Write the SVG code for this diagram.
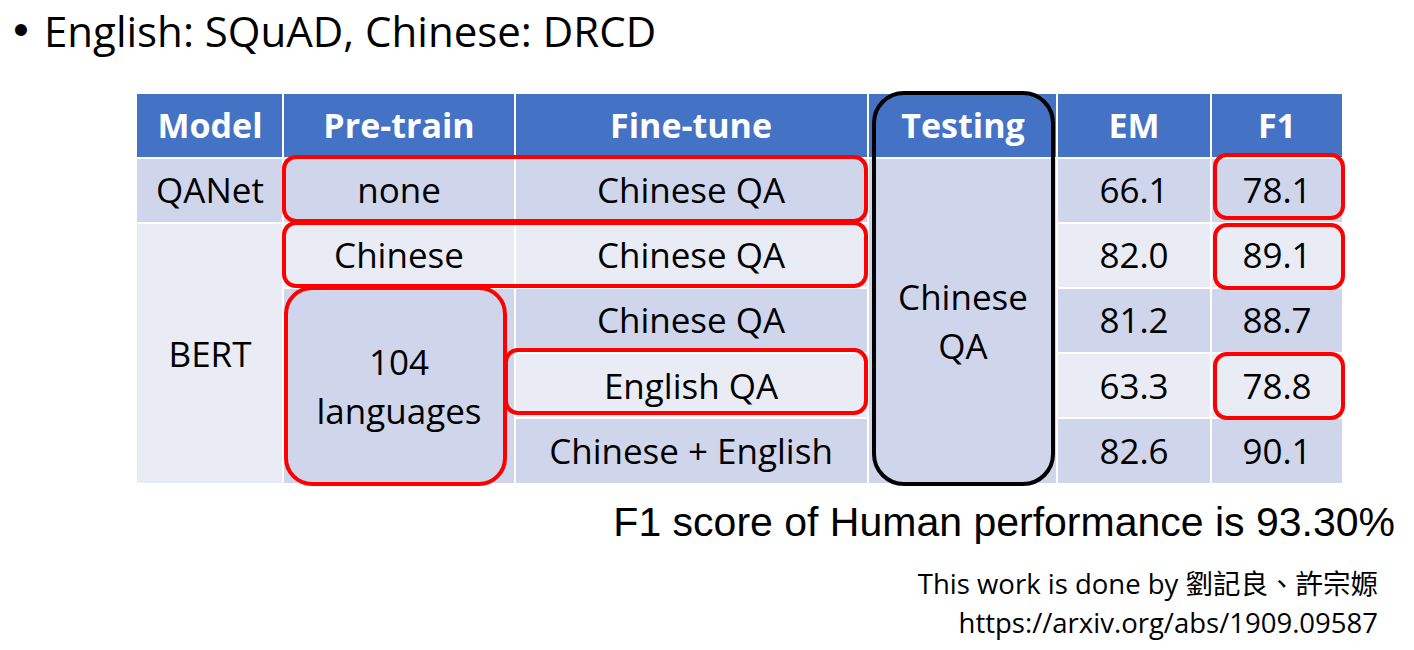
<svg xmlns="http://www.w3.org/2000/svg" width="1414" height="650" viewBox="0 0 1414 650">
<style>
.hd{fill:#4472C4}
.dk{fill:#CFD5EA}
.lt{fill:#E9EBF5}
.ht{font-family:"Open Sans","Noto Sans",sans-serif;font-weight:bold;font-size:34px;fill:#fff;text-anchor:middle}
.ct{font-family:"Open Sans","Noto Sans",sans-serif;font-size:35px;fill:#000;text-anchor:middle}
.rb{fill:none;stroke:#FF0000;stroke-width:4}
.bb{fill:none;stroke:#000;stroke-width:4}
</style>
<rect width="1414" height="650" fill="#fff"/>
<text x="21" y="45" text-anchor="middle" font-family="'Liberation Sans',Arial,sans-serif" font-size="44" fill="#000">•</text>
<text x="44" y="47" font-family="'Open Sans','Noto Sans',sans-serif" font-size="42" fill="#000">English: SQuAD, Chinese: DRCD</text>
<g id="table">
<rect class="hd" x="137" y="94" width="145" height="63"/>
<rect class="hd" x="284" y="94" width="230" height="63"/>
<rect class="hd" x="516" y="94" width="351" height="63"/>
<rect class="hd" x="869" y="94" width="187" height="63"/>
<rect class="hd" x="1058" y="94" width="152" height="63"/>
<rect class="hd" x="1212" y="94" width="130" height="63"/>
<rect class="dk" x="137" y="159" width="145" height="63"/>
<rect class="dk" x="284" y="159" width="230" height="63"/>
<rect class="dk" x="516" y="159" width="351" height="63"/>
<rect class="dk" x="1058" y="159" width="152" height="63"/>
<rect class="dk" x="1212" y="159" width="130" height="63"/>
<rect class="lt" x="137" y="224" width="145" height="259"/>
<rect class="lt" x="284" y="224" width="230" height="63"/>
<rect class="lt" x="516" y="224" width="351" height="63"/>
<rect class="lt" x="1058" y="224" width="152" height="63"/>
<rect class="lt" x="1212" y="224" width="130" height="63"/>
<rect class="dk" x="284" y="289" width="230" height="194"/>
<rect class="dk" x="516" y="289" width="351" height="63"/>
<rect class="dk" x="1058" y="289" width="152" height="63"/>
<rect class="dk" x="1212" y="289" width="130" height="63"/>
<rect class="lt" x="516" y="354" width="351" height="63"/>
<rect class="lt" x="1058" y="354" width="152" height="63"/>
<rect class="lt" x="1212" y="354" width="130" height="63"/>
<rect class="dk" x="516" y="419" width="351" height="64"/>
<rect class="dk" x="1058" y="419" width="152" height="64"/>
<rect class="dk" x="1212" y="419" width="130" height="64"/>
<rect class="dk" x="869" y="159" width="187" height="324"/>
</g>
<g id="header-text">
<text class="ht" x="210" y="138">Model</text>
<text class="ht" x="399" y="138">Pre-train</text>
<text class="ht" x="691" y="138">Fine-tune</text>
<text class="ht" x="963" y="138">Testing</text>
<text class="ht" x="1134" y="138">EM</text>
<text class="ht" x="1277" y="138">F1</text>
</g>
<g id="cell-text">
<text class="ct" x="210" y="203">QANet</text>
<text class="ct" x="399" y="203">none</text>
<text class="ct" x="691" y="203">Chinese QA</text>
<text class="ct" x="1134" y="203">66.1</text>
<text class="ct" x="1277" y="203">78.1</text>
<text class="ct" x="210" y="367">BERT</text>
<text class="ct" x="399" y="268">Chinese</text>
<text class="ct" x="691" y="268">Chinese QA</text>
<text class="ct" x="1134" y="268">82.0</text>
<text class="ct" x="1277" y="268">89.1</text>
<text class="ct" x="399" y="375">104</text>
<text class="ct" x="399" y="424">languages</text>
<text class="ct" x="691" y="333">Chinese QA</text>
<text class="ct" x="1134" y="333">81.2</text>
<text class="ct" x="1277" y="333">88.7</text>
<text class="ct" x="691" y="399">English QA</text>
<text class="ct" x="1134" y="399">63.3</text>
<text class="ct" x="1277" y="399">78.8</text>
<text class="ct" x="691" y="464">Chinese + English</text>
<text class="ct" x="1134" y="464">82.6</text>
<text class="ct" x="1277" y="464">90.1</text>
<text class="ct" x="963" y="310">Chinese</text>
<text class="ct" x="963" y="359">QA</text>
</g>
<g id="highlights">
<rect class="rb" x="284" y="157" width="582" height="64" rx="12"/>
<rect class="rb" x="284" y="223" width="582" height="63" rx="12"/>
<rect class="rb" x="286" y="288" width="219" height="196" rx="26"/>
<rect class="rb" x="506" y="350" width="360" height="63" rx="12"/>
<rect class="rb" x="1215" y="155" width="128" height="63" rx="12"/>
<rect class="rb" x="1215" y="225" width="128" height="63" rx="12"/>
<rect class="rb" x="1215" y="354" width="128" height="64" rx="12"/>
<rect class="bb" x="874" y="93" width="179" height="391" rx="30"/>
</g>
<text x="1395" y="536" text-anchor="end" font-family="'Liberation Sans',Arial,sans-serif" font-size="41" fill="#000">F1 score of Human performance is 93.30%</text>
<text x="1378" y="594" text-anchor="end" font-family="'Open Sans','Noto Sans CJK TC',sans-serif" font-size="27.5" fill="#000">This work is done by 劉記良、許宗嫄</text>
<text x="1378" y="633" text-anchor="end" font-family="'Open Sans','Noto Sans CJK TC',sans-serif" font-size="27.5" fill="#000">https://arxiv.org/abs/1909.09587</text>
</svg>
